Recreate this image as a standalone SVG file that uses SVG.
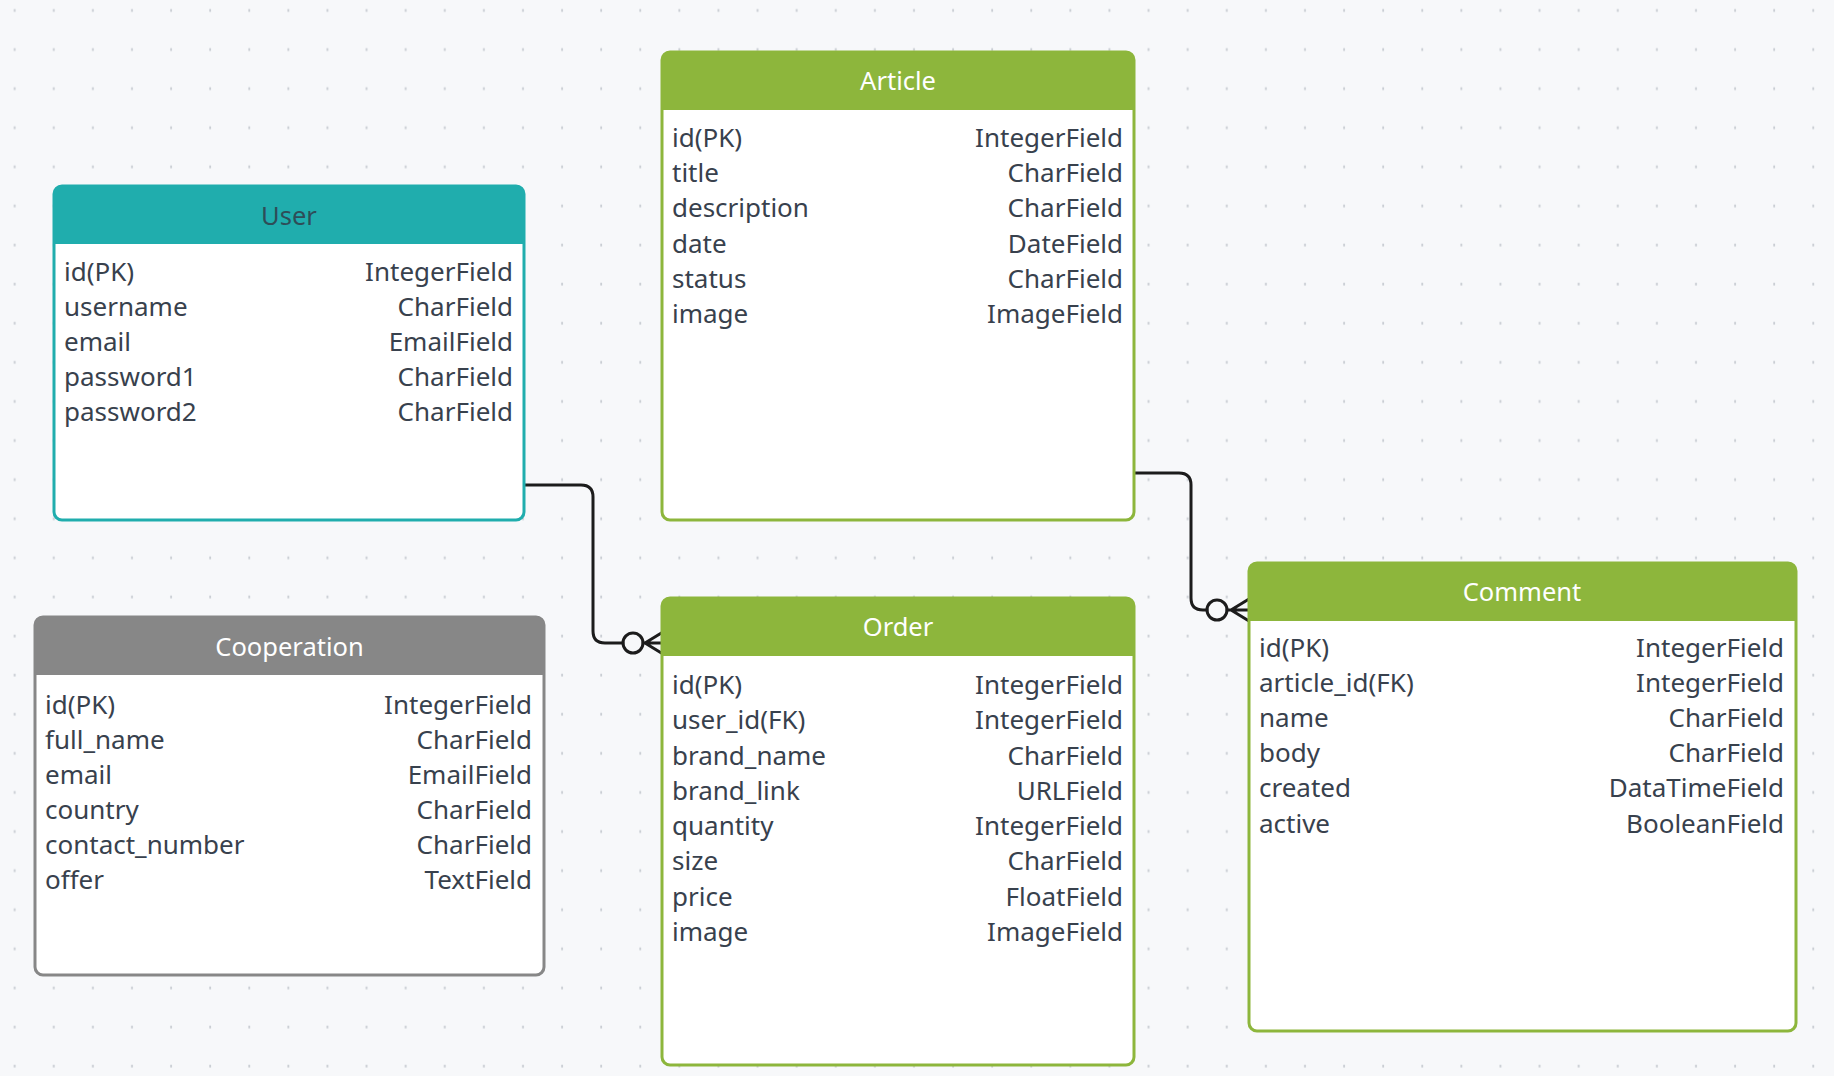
<svg xmlns="http://www.w3.org/2000/svg" width="1834" height="1076" viewBox="0 0 1834 1076">
<style>
.t{font-family:"Noto Sans","Open Sans",sans-serif;font-size:26px;fill:#38414d}
.r{text-anchor:end}
.h{font-family:"Noto Sans","Open Sans",sans-serif;font-size:25.5px;text-anchor:middle;fill:#ffffff}
.body{fill:#ffffff;stroke-width:3}
.conn{fill:none;stroke:#1c1c1c;stroke-width:3;stroke-linecap:round;stroke-linejoin:round}
.rows{transform:translate(0px,1.5px)}
</style>
<defs>
<pattern id="dots" patternUnits="userSpaceOnUse" x="-5" y="-9.25" width="39.1" height="39.1">
<rect x="18.8" y="18.3" width="1.8" height="2.8" fill="#c9cdd3"/>
</pattern>
</defs>
<rect width="1834" height="1076" fill="#f7f8fa"/>
<rect width="1834" height="1076" fill="url(#dots)"/>

<g id="connectors">
<path class="conn" d="M524 485 H581 Q593 485 593 497 V631 Q593 643 605 643 H623"/>
<circle class="conn" cx="633" cy="643" r="10" fill="#f7f8fa"/>
<path class="conn" d="M643 643 H663 M645 643 L663 632 M645 643 L663 654"/>
<path class="conn" d="M1134 473 H1179 Q1191 473 1191 485 V598 Q1191 610 1203 610 H1207"/>
<circle class="conn" cx="1217" cy="610" r="10" fill="#f7f8fa"/>
<path class="conn" d="M1227 610 H1249 M1231 610 L1249 599 M1231 610 L1249 621"/>
</g>

<g id="user">
<rect class="body" x="54" y="186" width="470" height="334" rx="8" stroke="#20adad"/>
<path d="M54 244 V194 Q54 186 62 186 H516 Q524 186 524 194 V244 Z" fill="#20adad"/>
<text class="h" x="289" y="225" style="fill:#2e4d58">User</text>
<g class="rows">
<text class="t" x="64" y="279">id(PK)</text><text class="t r" x="513" y="279">IntegerField</text>
<text class="t" x="64" y="314">username</text><text class="t r" x="513" y="314">CharField</text>
<text class="t" x="64" y="349">email</text><text class="t r" x="513" y="349">EmailField</text>
<text class="t" x="64" y="384">password1</text><text class="t r" x="513" y="384">CharField</text>
<text class="t" x="64" y="419">password2</text><text class="t r" x="513" y="419">CharField</text>
</g>
</g>

<g id="article">
<rect class="body" x="662" y="52" width="472" height="468" rx="8" stroke="#8db63c"/>
<path d="M662 110 V60 Q662 52 670 52 H1126 Q1134 52 1134 60 V110 Z" fill="#8db63c"/>
<text class="h" x="898" y="90">Article</text>
<g class="rows">
<text class="t" x="672" y="145">id(PK)</text><text class="t r" x="1123" y="145">IntegerField</text>
<text class="t" x="672" y="180">title</text><text class="t r" x="1123" y="180">CharField</text>
<text class="t" x="672" y="215">description</text><text class="t r" x="1123" y="215">CharField</text>
<text class="t" x="672" y="251">date</text><text class="t r" x="1123" y="251">DateField</text>
<text class="t" x="672" y="286">status</text><text class="t r" x="1123" y="286">CharField</text>
<text class="t" x="672" y="321">image</text><text class="t r" x="1123" y="321">ImageField</text>
</g>
</g>

<g id="cooperation">
<rect class="body" x="35" y="617" width="509" height="358" rx="8" stroke="#878787"/>
<path d="M35 675 V625 Q35 617 43 617 H536 Q544 617 544 625 V675 Z" fill="#878787"/>
<text class="h" x="289.5" y="656">Cooperation</text>
<g class="rows">
<text class="t" x="45" y="712">id(PK)</text><text class="t r" x="532" y="712">IntegerField</text>
<text class="t" x="45" y="747">full_name</text><text class="t r" x="532" y="747">CharField</text>
<text class="t" x="45" y="782">email</text><text class="t r" x="532" y="782">EmailField</text>
<text class="t" x="45" y="817">country</text><text class="t r" x="532" y="817">CharField</text>
<text class="t" x="45" y="852">contact_number</text><text class="t r" x="532" y="852">CharField</text>
<text class="t" x="45" y="887">offer</text><text class="t r" x="532" y="887">TextField</text>
</g>
</g>

<g id="order">
<rect class="body" x="662" y="598" width="472" height="467" rx="8" stroke="#8db63c"/>
<path d="M662 656 V606 Q662 598 670 598 H1126 Q1134 598 1134 606 V656 Z" fill="#8db63c"/>
<text class="h" x="898" y="636">Order</text>
<g class="rows">
<text class="t" x="672" y="692">id(PK)</text><text class="t r" x="1123" y="692">IntegerField</text>
<text class="t" x="672" y="727">user_id(FK)</text><text class="t r" x="1123" y="727">IntegerField</text>
<text class="t" x="672" y="763">brand_name</text><text class="t r" x="1123" y="763">CharField</text>
<text class="t" x="672" y="798">brand_link</text><text class="t r" x="1123" y="798">URLField</text>
<text class="t" x="672" y="833">quantity</text><text class="t r" x="1123" y="833">IntegerField</text>
<text class="t" x="672" y="868">size</text><text class="t r" x="1123" y="868">CharField</text>
<text class="t" x="672" y="904">price</text><text class="t r" x="1123" y="904">FloatField</text>
<text class="t" x="672" y="939">image</text><text class="t r" x="1123" y="939">ImageField</text>
</g>
</g>

<g id="comment">
<rect class="body" x="1249" y="563" width="547" height="468" rx="8" stroke="#8db63c"/>
<path d="M1249 621 V571 Q1249 563 1257 563 H1788 Q1796 563 1796 571 V621 Z" fill="#8db63c"/>
<text class="h" x="1522" y="601">Comment</text>
<g class="rows">
<text class="t" x="1259" y="655">id(PK)</text><text class="t r" x="1784" y="655">IntegerField</text>
<text class="t" x="1259" y="690">article_id(FK)</text><text class="t r" x="1784" y="690">IntegerField</text>
<text class="t" x="1259" y="725">name</text><text class="t r" x="1784" y="725">CharField</text>
<text class="t" x="1259" y="760">body</text><text class="t r" x="1784" y="760">CharField</text>
<text class="t" x="1259" y="795">created</text><text class="t r" x="1784" y="795">DataTimeField</text>
<text class="t" x="1259" y="831">active</text><text class="t r" x="1784" y="831">BooleanField</text>
</g>
</g>
</svg>
